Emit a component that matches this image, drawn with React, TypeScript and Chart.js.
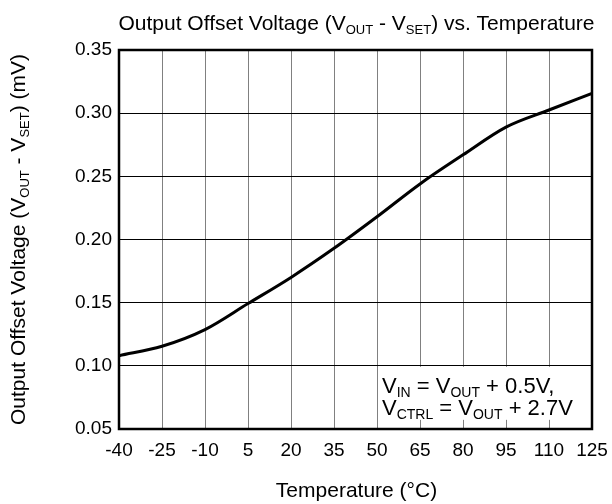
import React, { useEffect, useRef } from "react";
import { Chart, registerables } from "chart.js";

Chart.register(...registerables);

const temperatures = [-40, -25, -10, 5, 20, 35, 50, 65, 80, 95, 110, 125];
const offsetMv = [0.108, 0.1155, 0.1287, 0.1493, 0.17, 0.193, 0.218, 0.244, 0.267, 0.289, 0.3025, 0.3157];
const xTickValues = [-40, -25, -10, 5, 20, 35, 50, 65, 80, 95, 110, 125];
const yTickValues = [0.05, 0.1, 0.15, 0.2, 0.25, 0.3, 0.35];

// [text, isSubscript]
const titleSegs: [string, number][] = [["Output Offset Voltage (V", 0], ["OUT", 1], [" - V", 0], ["SET", 1], [") vs. Temperature", 0]];
const yTitleSegs: [string, number][] = [["Output Offset Voltage (V", 0], ["OUT", 1], [" - V", 0], ["SET", 1], [") (mV)", 0]];
const xTitle = "Temperature (°C)";
const noteLine1: [string, number][] = [["V", 0], ["IN", 1], [" = V", 0], ["OUT", 1], [" + 0.5V,", 0]];
const noteLine2: [string, number][] = [["V", 0], ["CTRL", 1], [" = V", 0], ["OUT", 1], [" + 2.7V", 0]];

const FONT = "'Liberation Sans', Arial, sans-serif";

function drawRich(ctx: CanvasRenderingContext2D, segs: [string, number][], x: number, y: number, size: number, align: "center" | "left") {
  const baseFont = `${size}px ${FONT}`;
  const subFont = `${Math.round(size * 0.62)}px ${FONT}`;
  let total = 0;
  const widths = segs.map(([t, s]) => {
    ctx.font = s ? subFont : baseFont;
    const w = ctx.measureText(t).width;
    total += w;
    return w;
  });
  let cx = align === "center" ? x - total / 2 : x;
  ctx.textAlign = "left";
  ctx.textBaseline = "alphabetic";
  ctx.fillStyle = "#000";
  segs.forEach(([t, s], i) => {
    ctx.font = s ? subFont : baseFont;
    ctx.fillText(t, cx, y + (s ? size * 0.2 : 0));
    cx += widths[i];
  });
}

const decorPlugin = {
  id: "decor",
  beforeDatasetsDraw(chart: any) {
    const ctx = chart.ctx as CanvasRenderingContext2D;
    const xs = chart.scales.x, ys = chart.scales.y;
    const area = chart.chartArea;
    const left = xs.getPixelForValue(50);
    const top = ys.getPixelForValue(0.1);
    ctx.save();
    ctx.fillStyle = "#fff";
    ctx.fillRect(left + 1, top + 1, area.right - left - 2, 53);
    drawRich(ctx, noteLine1, left + 5, top + 27, 22, "left");
    drawRich(ctx, noteLine2, left + 5, top + 49, 22, "left");
    ctx.restore();
  },
  afterDraw(chart: any) {
    const ctx = chart.ctx as CanvasRenderingContext2D;
    const area = chart.chartArea;
    ctx.save();
    ctx.strokeStyle = "#000";
    ctx.lineWidth = 2.5;
    ctx.strokeRect(area.left, area.top, area.right - area.left, area.bottom - area.top);
    const cxp = (area.left + area.right) / 2;
    drawRich(ctx, titleSegs, cxp + 1, 30, 21, "center");
    ctx.font = `21px ${FONT}`;
    ctx.textAlign = "center";
    ctx.textBaseline = "alphabetic";
    ctx.fillStyle = "#000";
    ctx.fillText(xTitle, cxp + 1, 497);
    ctx.translate(25, (area.top + area.bottom) / 2);
    ctx.rotate(-Math.PI / 2);
    drawRich(ctx, yTitleSegs, 0, 0, 21, "center");
    ctx.restore();
  },
};

export default function App() {
  const ref = useRef<HTMLCanvasElement>(null);
  useEffect(() => {
    if (!ref.current) return;
    const chart = new Chart(ref.current, {
      type: "line",
      data: {
        datasets: [
          {
            data: temperatures.map((t, i) => ({ x: t, y: offsetMv[i] })),
            borderColor: "#000",
            borderWidth: 3,
            pointRadius: 0,
            cubicInterpolationMode: "monotone",
            fill: false,
          },
        ],
      },
      options: {
        animation: false,
        responsive: false,
        layout: { padding: { left: 0, top: 50, right: 20, bottom: 0 } },
        plugins: { legend: { display: false }, tooltip: { enabled: false }, title: { display: false } },
        scales: {
          x: {
            type: "linear",
            min: -40,
            max: 125,
            afterBuildTicks: (s: any) => { s.ticks = xTickValues.map((v) => ({ value: v })); },
            afterFit: (s: any) => { s.height = 75; s.paddingLeft = 0; s.paddingRight = 0; },
            grid: { color: "#808080", lineWidth: 1, drawTicks: false },
            border: { display: false },
            ticks: { color: "#000", font: { family: FONT, size: 19 }, padding: 10, maxRotation: 0, autoSkip: false, callback: (v: any) => String(v) },
          },
          y: {
            type: "linear",
            min: 0.05,
            max: 0.35,
            afterBuildTicks: (s: any) => { s.ticks = yTickValues.map((v) => ({ value: v })); },
            afterFit: (s: any) => { s.width = 119; s.paddingTop = 0; s.paddingBottom = 0; },
            grid: { color: "#000", lineWidth: 1, drawTicks: false },
            border: { display: false },
            ticks: { color: "#000", font: { family: FONT, size: 19 }, padding: 7, callback: (v: any) => Number(v).toFixed(2) },
          },
        },
      },
      plugins: [decorPlugin],
    } as any);
    return () => chart.destroy();
  }, []);
  return (
    <div style={{ position: "absolute", left: 0, top: 0, width: 612, height: 504, background: "#fff" }}>
      <canvas ref={ref} width={612} height={504} />
    </div>
  );
}
